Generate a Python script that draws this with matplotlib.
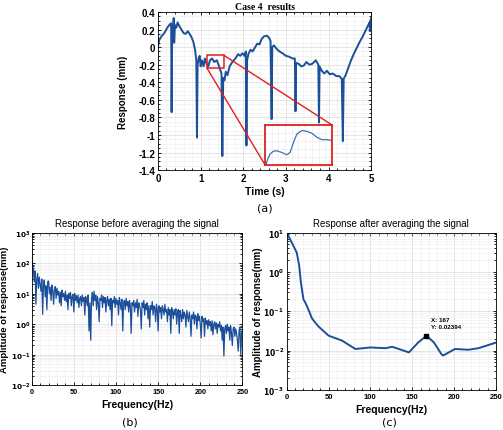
import matplotlib
matplotlib.use('Agg')
import math
import matplotlib.pyplot as plt
from matplotlib.ticker import MultipleLocator, AutoMinorLocator, LogLocator, FuncFormatter, NullFormatter
from matplotlib.patches import Rectangle

plt.rcParams['font.family'] = 'Liberation Sans'

# ---- Data: panel (a), time response ----
time_s = [0.00, 0.03, 0.08, 0.15, 0.22, 0.28, 0.31, 0.32, 0.335, 0.36, 0.37, 0.38, 0.40, 0.43, 0.46,
          0.50, 0.55, 0.60, 0.65, 0.70, 0.73, 0.78, 0.83, 0.87, 0.90, 0.915, 0.93, 0.96, 0.98, 1.00,
          1.03, 1.07, 1.10, 1.14, 1.18, 1.22, 1.27, 1.32, 1.38, 1.42, 1.46, 1.49, 1.51, 1.53, 1.56,
          1.59, 1.63, 1.68, 1.73, 1.78, 1.83, 1.88, 1.93, 1.98, 2.03, 2.06, 2.075, 2.09, 2.12, 2.17,
          2.22, 2.28, 2.33, 2.38, 2.43, 2.48, 2.55, 2.60, 2.64, 2.665, 2.68, 2.72, 2.78, 2.85, 2.92,
          3.00, 3.08, 3.15, 3.21, 3.225, 3.24, 3.30, 3.36, 3.42, 3.48, 3.55, 3.62, 3.70, 3.76, 3.775,
          3.79, 3.84, 3.90, 3.96, 4.03, 4.10, 4.18, 4.25, 4.31, 4.335, 4.355, 4.40, 4.46, 4.52, 4.58,
          4.65, 4.72, 4.80, 4.87, 4.93, 4.96, 4.97, 4.98, 5.00]
response_mm = [0.00, 0.08, 0.12, 0.16, 0.22, 0.26, 0.27, -0.74, 0.22, 0.25, 0.33, 0.05, 0.25, 0.22, 0.28,
               0.24, 0.20, 0.16, 0.15, 0.18, 0.16, 0.12, 0.06, -0.03, -0.15, -1.03, -0.20, -0.12, -0.10, -0.22,
               -0.15, -0.22, -0.13, -0.19, -0.22, -0.15, -0.13, -0.17, -0.15, -0.20, -0.26, -0.30, -1.24, -0.35, -0.38,
               -0.28, -0.32, -0.22, -0.18, -0.15, -0.12, -0.08, -0.10, -0.07, -0.10, -0.05, -1.12, -0.15, -0.08, -0.03,
               -0.05, 0.00, 0.04, 0.03, 0.09, 0.12, 0.13, 0.11, 0.07, -0.82, 0.00, 0.02, -0.02, -0.05, -0.07,
               -0.10, -0.11, -0.13, -0.13, -0.73, -0.18, -0.19, -0.22, -0.21, -0.17, -0.20, -0.19, -0.15, -0.20, -0.86,
               -0.22, -0.27, -0.30, -0.27, -0.31, -0.30, -0.33, -0.33, -0.36, -1.07, -0.36, -0.32, -0.24, -0.16, -0.09,
               -0.02, 0.05, 0.12, 0.19, 0.25, 0.28, 0.18, 0.30, 0.33]

# zoomed segment shown in the inset (fractions of inset box)
inset_x = [0.015, 0.04, 0.075, 0.125, 0.175, 0.25, 0.325, 0.375, 0.425, 0.475, 0.55, 0.625, 0.70, 0.775, 0.85, 0.925, 1.0]
inset_y = [0.0, 0.14, 0.27, 0.34, 0.35, 0.31, 0.25, 0.31, 0.56, 0.77, 0.86, 0.84, 0.79, 0.69, 0.63, 0.63, 0.61]
zoom_box = [1.15, 1.55, -0.24, -0.095]     # t0, t1, y0, y1
inset_box = [2.51, 4.08, -1.339, -0.886]

# ---- Data: panel (b), spectrum before averaging (1 Hz bins) ----
freq_b = list(range(0, 251))
amp_b = [300, 90, 60, 25, 55, 4.5, 30, 45, 15, 35,
         20, 12, 30, 2.1, 22, 28, 8, 18, 3, 25,
         26, 10, 16, 6, 19, 12, 4.5, 14, 17, 7,
         15, 9, 12, 5, 11, 4, 13, 8, 10, 6,
         12, 5.5, 9, 3, 10, 7, 11, 4, 8, 9.5,
         2.5, 10, 6, 8.5, 5, 9, 3.5, 7, 8, 4,
         9, 5.5, 7.5, 2, 8, 6, 4, 9, 0.6, 5,
         0.3, 7, 11, 4, 12, 6, 9, 3, 8, 5,
         1.2, 7, 6, 9, 3.5, 8, 5, 7.5, 2.5, 6,
         8, 4, 6.5, 3, 7, 0.9, 6, 5, 8, 3.5,
         7, 4.5, 6, 2, 7.5, 5, 3, 6.5, 0.6, 5,
         6, 3, 7, 4, 5.5, 2.5, 6, 4, 0.5, 5,
         4, 6, 2.5, 5, 3.5, 6.5, 1.8, 5, 4, 3,
         0.7, 5, 3.5, 6, 2, 4.5, 3, 5, 1.5, 4,
         0.8, 4, 3, 5.5, 2, 4, 3.5, 1.2, 4.5, 3,
         0.6, 4, 2.5, 3.5, 1.5, 4, 3, 2, 4.5, 2.5,
         3, 1.2, 3.5, 2, 3, 0.5, 3.5, 2.5, 1.5, 3,
         2, 3.2, 1, 2.5, 3, 0.5, 2.8, 2, 1.2, 3,
         1.5, 2.5, 2, 0.8, 2.8, 1.8, 1.2, 2.5, 1.5, 0.4,
         2, 1.5, 2.5, 1, 2, 1.8, 0.7, 2.2, 1.3, 1.8,
         1, 0.35, 1.8, 1.2, 1.5, 0.4, 1.6, 1, 1.3, 0.7,
         1.4, 0.9, 1.2, 0.6, 1.3, 0.45, 1, 1.2, 0.7, 1.1,
         0.5, 1, 0.8, 1.2, 0.6, 0.9, 0.3, 0.8, 0.09, 0.7,
         0.9, 0.5, 1, 0.6, 0.8, 0.3, 0.9, 0.5, 0.2, 0.7,
         0.8, 0.4, 0.7, 0.5, 0.3, 0.13, 0.6, 0.8, 0.1, 0.5, 0.7]

# ---- Data: panel (c), spectrum after averaging ----
freq_c = [0, 6, 12, 15, 17, 20, 22, 26, 30, 33, 38, 50, 66, 82, 100, 118, 126, 146, 157, 167,
          176, 185, 187, 201, 217, 229, 237, 250]
amp_c = [10, 5.6, 3.1, 1.4, 0.53, 0.2, 0.17, 0.11, 0.067, 0.055, 0.041, 0.024, 0.018, 0.011, 0.012,
         0.0115, 0.0125, 0.009, 0.016, 0.02394, 0.016, 0.008, 0.0075, 0.011, 0.0105, 0.0115, 0.013, 0.016]
tip_f, tip_amp = 167, 0.02394

blue = '#1c4f9a'


def style_axes(ax, size):
    ax.grid(True, which='major', color='#d9d9d9', linewidth=0.5)
    ax.grid(True, which='minor', color='#ececec', linewidth=0.4)
    ax.set_axisbelow(True)
    ax.tick_params(which='both', direction='in', top=True, right=True, labelsize=size,
                   length=2.5, width=0.6, pad=2)
    ax.tick_params(which='minor', length=1.2)
    for lab in ax.get_xticklabels() + ax.get_yticklabels():
        lab.set_fontweight('bold')
    for s in ax.spines.values():
        s.set_linewidth(0.6)


def pow_fmt(v, pos):
    e = int(round(math.log10(v)))
    return r'$\mathbf{10^{%d}}$' % e


fig = plt.figure(figsize=(5.03, 4.31), dpi=100)

# ---- (a) ----
ax1 = fig.add_axes([0.314, 0.603, 0.424, 0.367])
ax1.plot(time_s, response_mm, color=blue, linewidth=1.4)
ax1.set_xlim(0, 5)
ax1.set_ylim(-1.4, 0.4)
ax1.xaxis.set_major_locator(MultipleLocator(1))
ax1.xaxis.set_minor_locator(AutoMinorLocator(5))
ax1.yaxis.set_major_locator(MultipleLocator(0.2))
ax1.yaxis.set_minor_locator(AutoMinorLocator(4))
ax1.yaxis.set_major_formatter(FuncFormatter(lambda v, p: '0' if abs(v) < 1e-9 else ('%g' % round(v, 1))))
style_axes(ax1, 7)
ax1.set_title('Case 4  results', fontsize=7, fontweight='bold', family='Liberation Serif', pad=2)
ax1.set_xlabel('Time (s)', fontsize=7.5, fontweight='bold', labelpad=2)
ax1.set_ylabel('Response (mm)', fontsize=7, fontweight='bold')
ax1.yaxis.set_label_coords(-0.14, 0.5)

t0, t1, y0, y1 = zoom_box
ax1.add_patch(Rectangle((t0, y0), t1 - t0, y1 - y0, fill=False, edgecolor='#e02020', linewidth=1.1, zorder=5))
it0, iy0, it1, iy1 = inset_box[0], inset_box[2], inset_box[1], inset_box[3]
ax1.plot([t1, it1], [y1, iy1], color='#e02020', linewidth=1.0, zorder=5)
ax1.plot([t0, it0], [y0, iy0], color='#e02020', linewidth=1.0, zorder=5)
axin = ax1.inset_axes([it0, iy0, it1 - it0, iy1 - iy0], transform=ax1.transData, zorder=6)
axin.plot(inset_x, inset_y, color='#3a72b8', linewidth=0.9)
axin.set_xlim(0, 1)
axin.set_ylim(0, 1)
axin.set_xticks([i / 10 for i in range(11)])
axin.set_yticks([i / 5 for i in range(6)])
axin.tick_params(length=0, labelbottom=False, labelleft=False)
axin.grid(True, color='#e6e6e6', linewidth=0.4)
for s in axin.spines.values():
    s.set_edgecolor('#e02020')
    s.set_linewidth(1.3)

fig.text(0.527, 0.517, '(a)', ha='center', va='center', fontsize=8, family='DejaVu Sans')

# ---- (b) ----
ax2 = fig.add_axes([0.063, 0.104, 0.419, 0.354])
ax2.semilogy(freq_b, amp_b, color=blue, linewidth=0.9)
ax2.set_xlim(0, 250)
ax2.set_ylim(1e-2, 1e3)
ax2.xaxis.set_major_locator(MultipleLocator(50))
ax2.xaxis.set_minor_locator(MultipleLocator(10))
ax2.yaxis.set_major_locator(LogLocator(base=10, numticks=10))
ax2.yaxis.set_minor_locator(LogLocator(base=10, subs=range(2, 10), numticks=20))
ax2.yaxis.set_major_formatter(FuncFormatter(pow_fmt))
ax2.yaxis.set_minor_formatter(NullFormatter())
style_axes(ax2, 5.2)
ax2.tick_params(axis='y', pad=1)
ax2.set_title('Response before averaging the signal', fontsize=7, pad=5)
ax2.set_xlabel('Frequency(Hz)', fontsize=7.5, fontweight='bold', labelpad=3)
ax2.set_ylabel('Amplitude of response(mm)', fontsize=6.8, fontweight='bold')
ax2.yaxis.set_label_coords(-0.108, 0.5)
fig.text(0.258, 0.019, '(b)', ha='center', va='center', fontsize=8, family='DejaVu Sans')

# ---- (c) ----
ax3 = fig.add_axes([0.570, 0.093, 0.416, 0.365])
ax3.semilogy(freq_c, amp_c, color=blue, linewidth=1.4)
ax3.plot([tip_f], [tip_amp], marker='s', color='black', markersize=3.5, linestyle='none')
ax3.text(tip_f + 5, tip_amp * 1.45, 'X: %d\nY: %.5f' % (tip_f, tip_amp), fontsize=4.5, fontweight='bold',
         va='bottom', ha='left', linespacing=1.6)
ax3.set_xlim(0, 250)
ax3.set_ylim(1e-3, 1e1)
ax3.xaxis.set_major_locator(MultipleLocator(50))
ax3.xaxis.set_minor_locator(MultipleLocator(10))
ax3.yaxis.set_major_locator(LogLocator(base=10, numticks=10))
ax3.yaxis.set_minor_locator(LogLocator(base=10, subs=range(2, 10), numticks=20))
ax3.yaxis.set_major_formatter(FuncFormatter(pow_fmt))
ax3.yaxis.set_minor_formatter(NullFormatter())
style_axes(ax3, 5.5)
ax3.set_title('Response after averaging the signal', fontsize=7, pad=5)
ax3.set_xlabel('Frequency(Hz)', fontsize=7.5, fontweight='bold', labelpad=3)
ax3.set_ylabel('Amplitude of response(mm)', fontsize=7, fontweight='bold')
ax3.yaxis.set_label_coords(-0.113, 0.5)
fig.text(0.775, 0.019, '(c)', ha='center', va='center', fontsize=8, family='DejaVu Sans')

fig.savefig('out.png', dpi=100)
